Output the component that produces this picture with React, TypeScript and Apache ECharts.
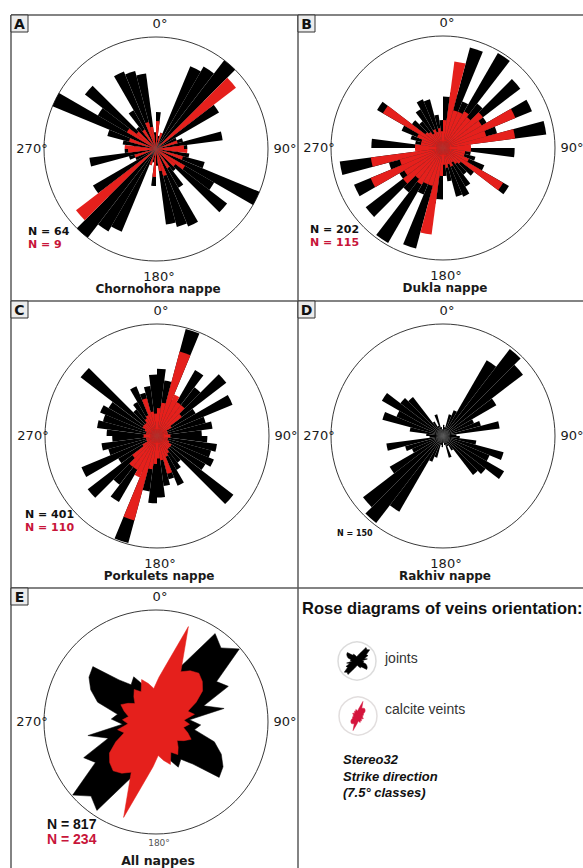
import React, { useEffect, useRef } from "react";
import * as echarts from "echarts";

// 7.5° strike classes (0°–360°), bidirectional data mirrored from 0–180°
const CLASS_LABELS = Array.from({ length: 48 }, (_, i) => `${(i * 7.5).toFixed(1)}°`);

// Radial length of each class, % of the outer circle (classes 0–7.5°, 7.5–15°, … 172.5–180°)
const A_JOINTS = [33, 12, 15, 80, 85, 100, 60, 65, 20, 25, 60, 28, 20, 30, 45, 100, 60, 80, 25, 40, 75, 72, 68, 15];
const A_VEINS = [25, 0, 15, 0, 0, 0, 90, 0, 0, 20, 0, 25, 28, 0, 25, 0, 30, 22, 0, 20, 0, 25, 20, 0];

const B_JOINTS = [46, 50, 93, 45, 98, 50, 87, 45, 86, 50, 93, 20, 64, 25, 30, 40, 68, 35, 30, 40, 47, 45, 30, 25];
const B_VEINS = [25, 78, 35, 35, 38, 35, 45, 40, 70, 40, 65, 25, 25, 20, 20, 25, 62, 20, 18, 15, 18, 15, 18, 15];

const C_JOINTS = [60, 50, 99, 35, 68, 55, 78, 40, 73, 45, 50, 40, 45, 54, 50, 55, 50, 86, 30, 35, 48, 40, 45, 55];
const C_VEINS = [25, 30, 78, 40, 35, 35, 28, 15, 10, 10, 10, 12, 12, 10, 10, 12, 15, 15, 15, 18, 20, 35, 22, 20];

const D_JOINTS = [10, 8, 20, 25, 78, 98, 90, 55, 30, 35, 51, 12, 15, 30, 56, 45, 63, 48, 44, 15, 10, 20, 8, 6];

const E_JOINTS = [30, 35, 45, 60, 95, 88, 99, 65, 72, 45, 62, 30, 40, 35, 55, 65, 72, 75, 50, 40, 45, 35, 30, 25];
const E_VEINS = [40, 55, 90, 50, 55, 58, 55, 50, 40, 30, 35, 25, 30, 25, 30, 35, 30, 25, 30, 35, 30, 40, 35, 30];

const N_LABELS = {
  A: ["N = 64", "N = 9"],
  B: ["N = 202", "N = 115"],
  C: ["N = 401", "N = 110"],
  D: ["N = 150"],
  E: ["N = 817", "N = 234"],
};
const TITLES = {
  A: "Chornohora nappe",
  B: "Dukla nappe",
  C: "Porkulets nappe",
  D: "Rakhiv nappe",
  E: "All nappes",
};
const DIR_LABELS = ["0°", "90°", "180°", "270°"];

const BLACK = "#000000";
const RED = "#e5201c";
const RED_TEXT = "#c8153a";
const FRAME = "#5a5a5a";
const CIRCLE = "#3a3a3a";
const R = 112;

const mirror = (half: number[]) => [...half, ...half];
// radar indicators run counter-clockwise from startAngle
const toRadar = (full: number[]) => full.map((_, i) => full[(48 - i) % 48]);

const BAR_PANELS = [
  { key: "A", cx: 156, cy: 149, joints: A_JOINTS, veins: A_VEINS },
  { key: "B", cx: 443, cy: 148, joints: B_JOINTS, veins: B_VEINS },
  { key: "C", cx: 157, cy: 436, joints: C_JOINTS, veins: C_VEINS },
  { key: "D", cx: 443, cy: 436, joints: D_JOINTS, veins: null as number[] | null },
];

function txt(text: string, x: number, y: number, font: string, fill = "#1a1a1a", align = "center", valign = "middle") {
  return {
    type: "text",
    x,
    y,
    silent: true,
    z: 10,
    style: { text, font, fill, textAlign: align, textVerticalAlign: valign, align, verticalAlign: valign },
  };
}
function line(x1: number, y1: number, x2: number, y2: number, color = FRAME, w = 1.5) {
  return { type: "line", silent: true, shape: { x1, y1, x2, y2 }, style: { stroke: color, lineWidth: w } };
}
function letterBox(letter: string, x: number, y: number) {
  return [
    { type: "rect", silent: true, z: 9, shape: { x, y, width: 17, height: 17 }, style: { fill: "#ececec", stroke: "#333", lineWidth: 1 } },
    txt(letter, x + 8.5, y + 9, 'bold 14px "DejaVu Sans"', "#111"),
  ];
}

export default function App() {
  const ref = useRef<HTMLDivElement>(null);
  useEffect(() => {
    if (!ref.current) return;
    const chart = echarts.init(ref.current, undefined, { renderer: "svg" });

    const polar: any[] = [];
    const angleAxis: any[] = [];
    const radiusAxis: any[] = [];
    const series: any[] = [];

    BAR_PANELS.forEach((p, i) => {
      polar.push({ center: [p.cx, p.cy], radius: R });
      angleAxis.push({
        polarIndex: i,
        type: "category",
        data: CLASS_LABELS,
        startAngle: 90,
        clockwise: true,
        boundaryGap: true,
        axisLine: { show: true, lineStyle: { color: CIRCLE, width: 1 } },
        axisTick: { show: false },
        axisLabel: { show: false },
        splitLine: { show: false },
        splitArea: { show: false },
      });
      radiusAxis.push({
        polarIndex: i,
        type: "value",
        min: 0,
        max: 100,
        axisLine: { show: false },
        axisTick: { show: false },
        axisLabel: { show: false },
        splitLine: { show: false },
      });
      series.push({
        type: "bar",
        name: "joints",
        coordinateSystem: "polar",
        polarIndex: i,
        data: mirror(p.joints),
        itemStyle: { color: BLACK },
        barCategoryGap: "0%",
        barGap: "-100%",
        silent: true,
        z: 2,
      });
      if (p.veins) {
        series.push({
          type: "bar",
          name: "calcite veins",
          coordinateSystem: "polar",
          polarIndex: i,
          data: mirror(p.veins),
          itemStyle: { color: RED },
          barCategoryGap: "0%",
          barGap: "-100%",
          silent: true,
          z: 3,
        });
      }
    });

    const indicator = CLASS_LABELS.map((n) => ({ name: n, min: 0, max: 100 }));
    const radarBase = {
      startAngle: 86.25,
      indicator,
      shape: "circle",
      splitNumber: 1,
      axisName: { show: false },
      axisLine: { show: false },
      axisTick: { show: false },
      axisLabel: { show: false },
      splitArea: { show: false },
      silent: true,
    };
    const radar = [
      { ...radarBase, center: [156, 722], radius: R, splitLine: { lineStyle: { color: CIRCLE, width: 1 } } },
      { ...radarBase, center: [357, 661], radius: 19, splitLine: { lineStyle: { color: "#dcdcdc", width: 1.5 } } },
      { ...radarBase, center: [358, 716], radius: 19, splitLine: { lineStyle: { color: "#e2dede", width: 1.5 } } },
    ];
    const radarSeries = (idx: number, black: number[] | null, red: number[] | null, redColor = RED) => {
      const data: any[] = [];
      if (black)
        data.push({
          value: toRadar(mirror(black)),
          symbol: "none",
          lineStyle: { color: BLACK, width: 0.5 },
          areaStyle: { color: BLACK, opacity: 1 },
        });
      if (red)
        data.push({
          value: toRadar(mirror(red)),
          symbol: "none",
          lineStyle: { color: redColor, width: 0.5 },
          areaStyle: { color: redColor, opacity: 1 },
        });
      return { type: "radar", radarIndex: idx, silent: true, data, z: 2 };
    };
    series.push(radarSeries(0, E_JOINTS, E_VEINS));
    series.push(radarSeries(1, E_JOINTS.map((v) => v * 0.9), null));
    series.push(radarSeries(2, null, E_VEINS.map((v) => v * 0.9), "#d4143c"));

    const g: any[] = [];
    // frame
    g.push(line(11, 15, 583, 15));
    g.push(line(11, 15, 11, 868));
    g.push(line(298, 15, 298, 868));
    g.push(line(11, 301, 583, 301));
    g.push(line(11, 588, 583, 588));
    g.push(...letterBox("A", 11, 15));
    g.push(...letterBox("B", 298, 15));
    g.push(...letterBox("C", 11, 301));
    g.push(...letterBox("D", 298, 301));
    g.push(...letterBox("E", 11, 588));

    const dirFont = '13px "DejaVu Sans"';
    const titleFont = 'bold 12px "DejaVu Sans"';
    const nFont = 'bold 11px "DejaVu Sans"';
    const panels = [
      { key: "A", cx: 156, cy: 149 },
      { key: "B", cx: 443, cy: 148 },
      { key: "C", cx: 157, cy: 436 },
      { key: "D", cx: 443, cy: 436 },
      { key: "E", cx: 156, cy: 722 },
    ];
    panels.forEach((p) => {
      g.push(txt(DIR_LABELS[0], p.cx + 4, p.cy - 126, dirFont));
      g.push(txt(DIR_LABELS[1], p.cx + 129, p.cy - 1, dirFont));
      if (p.key === "E") {
        g.push(txt(DIR_LABELS[2], p.cx + 3, p.cy + 121, '9px "DejaVu Sans"', "#555"));
        g.push(txt(TITLES.E, p.cx + 2, p.cy + 138, 'bold 12.5px "DejaVu Sans"'));
      } else {
        g.push(txt(DIR_LABELS[2], p.cx + 3, p.cy + 127, dirFont));
        g.push(txt((TITLES as any)[p.key], p.cx + 2, p.cy + 140, titleFont));
      }
      g.push(txt(DIR_LABELS[3], p.cx - 124, p.cy - 1, dirFont));
    });
    // N labels
    g.push(txt(N_LABELS.A[0], 28, 231, nFont, "#111", "left"));
    g.push(txt(N_LABELS.A[1], 28, 244, nFont, RED_TEXT, "left"));
    g.push(txt(N_LABELS.B[0], 310, 229, nFont, "#111", "left"));
    g.push(txt(N_LABELS.B[1], 310, 242, nFont, RED_TEXT, "left"));
    g.push(txt(N_LABELS.C[0], 25, 514, nFont, "#111", "left"));
    g.push(txt(N_LABELS.C[1], 25, 527, nFont, RED_TEXT, "left"));
    g.push(txt(N_LABELS.D[0], 337, 533, 'bold 8px "DejaVu Sans"', "#111", "left"));
    g.push(txt(N_LABELS.E[0], 47, 824, 'bold 14px "Liberation Sans"', "#111", "left"));
    g.push(txt(N_LABELS.E[1], 47, 839, 'bold 14px "Liberation Sans"', RED_TEXT, "left"));

    // legend panel
    g.push(txt("Rose diagrams of veins orientation:", 302, 608, 'bold 16.5px "Liberation Sans"', "#111", "left"));
    g.push(txt("joints", 385, 658, '14px "Liberation Sans"', "#333", "left"));
    g.push(txt("calcite veints", 385, 709, '14px "Liberation Sans"', "#333", "left"));
    g.push(txt("Stereo32", 343, 759, 'italic bold 13px "Liberation Sans"', "#111", "left"));
    g.push(txt("Strike direction", 343, 776, 'italic bold 13px "Liberation Sans"', "#111", "left"));
    g.push(txt("(7.5° classes)", 343, 792, 'italic bold 13px "Liberation Sans"', "#111", "left"));

    chart.setOption({
      animation: false,
      backgroundColor: "#ffffff",
      polar,
      angleAxis,
      radiusAxis,
      radar,
      series,
      graphic: { elements: g },
    });
    return () => chart.dispose();
  }, []);
  return (
    <div
      ref={ref}
      style={{ position: "absolute", left: 0, top: 0, width: 583, height: 868, background: "#fff" }}
    />
  );
}
